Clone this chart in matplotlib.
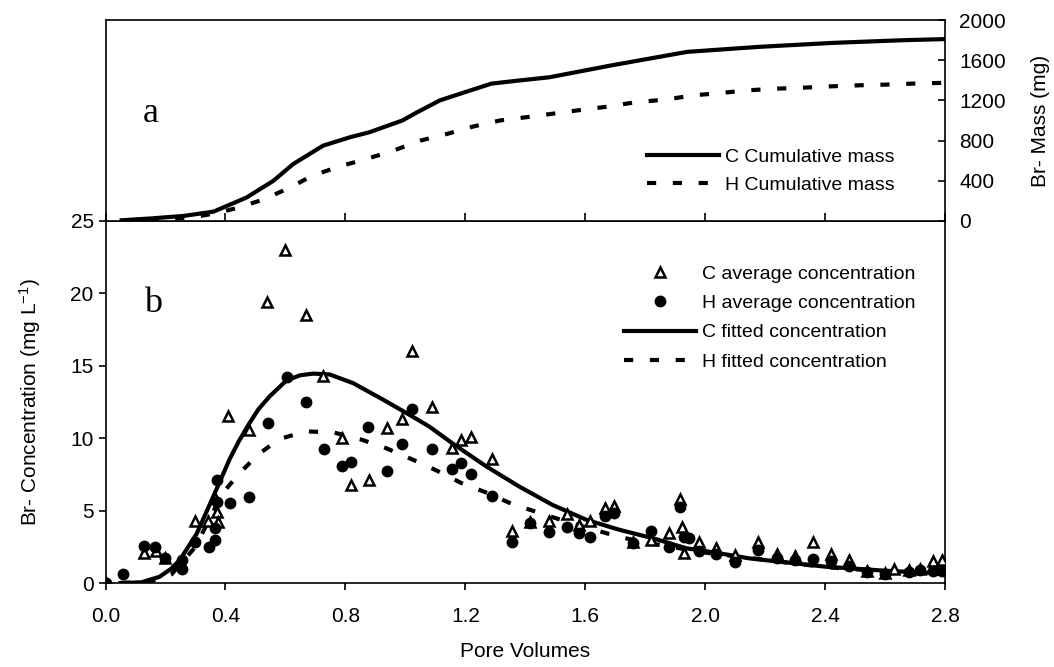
import numpy as np
import matplotlib
matplotlib.use("Agg")
import matplotlib.pyplot as plt

plt.rcParams['font.family'] = ['Liberation Sans', 'DejaVu Sans']
plt.rcParams['mathtext.default'] = 'regular'

# ---- panel a: cumulative mass (mg) ----
c_mass_x = [0.054, 0.15, 0.26, 0.36, 0.47, 0.56, 0.626, 0.726, 0.815, 0.88, 0.99, 1.04, 1.115,
            1.2, 1.287, 1.37, 1.48, 1.69, 1.94, 2.18, 2.43, 2.67, 2.8]
c_mass_y = [7, 25, 50, 93, 233, 400, 567, 750, 833, 883, 1000, 1083, 1200,
            1283, 1367, 1395, 1430, 1550, 1683, 1733, 1773, 1800, 1810]

h_mass_x = [0.06, 0.2, 0.3, 0.38, 0.443, 0.53, 0.615, 0.69, 0.78, 0.87, 0.96, 1.05, 1.14, 1.226,
            1.315, 1.404, 1.49, 1.59, 1.68, 1.77, 1.865, 1.96, 2.05, 2.14, 2.24, 2.33, 2.42,
            2.51, 2.6, 2.69, 2.8]
h_mass_y = [0, 15, 40, 85, 133, 217, 333, 450, 543, 617, 700, 800, 867, 940,
            1000, 1033, 1067, 1107, 1140, 1183, 1207, 1250, 1273, 1300, 1317, 1327, 1340,
            1350, 1357, 1367, 1375]

# ---- panel b: measured concentrations (mg/L) ----
c_obs_x = [0.0, 0.13, 0.17, 0.20, 0.25, 0.30, 0.343, 0.365, 0.373, 0.375, 0.41, 0.478, 0.54,
           0.60, 0.668, 0.726, 0.79, 0.82, 0.88, 0.94, 0.99, 1.023, 1.09, 1.154, 1.187, 1.22,
           1.29, 1.357, 1.417, 1.478, 1.54, 1.58, 1.617, 1.667, 1.695, 1.76, 1.818, 1.88,
           1.917, 1.924, 1.93, 1.98, 2.035, 2.10, 2.176, 2.24, 2.30, 2.36, 2.42, 2.48, 2.54,
           2.60, 2.63, 2.68, 2.715, 2.76, 2.79]
c_obs_y = [0.0, 2.05, 2.2, 1.7, 1.35, 4.25, 4.25, 5.9, 4.9, 4.2, 11.5, 10.6, 19.4,
           23.0, 18.5, 14.3, 10.0, 6.8, 7.1, 10.7, 11.3, 16.0, 12.15, 9.3, 9.9, 10.1,
           8.55, 3.6, 4.2, 4.3, 4.8, 4.0, 4.3, 5.2, 5.35, 2.85, 3.0, 3.45,
           5.8, 3.9, 2.1, 2.8, 2.4, 1.95, 2.85, 2.0, 1.9, 2.8, 2.0, 1.6, 0.8,
           0.7, 1.0, 0.9, 1.0, 1.5, 1.6]

h_obs_x = [0.0, 0.06, 0.13, 0.165, 0.20, 0.255, 0.255, 0.30, 0.344, 0.365, 0.365, 0.372, 0.372,
           0.415, 0.478, 0.543, 0.606, 0.668, 0.728, 0.79, 0.82, 0.876, 0.94, 0.99, 1.023,
           1.09, 1.154, 1.187, 1.22, 1.29, 1.356, 1.417, 1.48, 1.54, 1.58, 1.617, 1.667,
           1.695, 1.76, 1.818, 1.88, 1.917, 1.93, 1.945, 1.98, 2.035, 2.10, 2.176, 2.24,
           2.30, 2.36, 2.42, 2.48, 2.54, 2.60, 2.68, 2.715, 2.76, 2.79]
h_obs_y = [0.0, 0.6, 2.55, 2.5, 1.75, 1.6, 1.0, 2.85, 2.5, 3.0, 3.8, 5.6, 7.1,
           5.55, 5.95, 11.05, 14.2, 12.5, 9.25, 8.05, 8.35, 10.8, 7.75, 9.6, 12.0,
           9.25, 7.9, 8.3, 7.5, 6.0, 2.85, 4.15, 3.5, 3.85, 3.45, 3.2, 4.6,
           4.85, 2.75, 3.6, 2.5, 5.25, 3.15, 3.1, 2.2, 2.0, 1.45, 2.3, 1.75,
           1.6, 1.65, 1.55, 1.2, 0.75, 0.65, 0.75, 0.9, 0.85, 0.8]

# ---- panel b: fitted curves ----
c_fit_x = [0.05, 0.12, 0.18, 0.22, 0.248, 0.304, 0.36, 0.415, 0.445, 0.476, 0.51, 0.548, 0.604,
           0.65, 0.693, 0.748, 0.826, 0.926, 1.015, 1.08, 1.16, 1.27, 1.38, 1.49, 1.604, 1.715,
           1.826, 1.937, 2.048, 2.148, 2.4, 2.6, 2.8]
c_fit_y = [0.0, 0.05, 0.43, 1.0, 1.6, 3.4, 6.0, 8.6, 9.8, 10.9, 12.0, 12.9, 14.0,
           14.35, 14.46, 14.4, 13.8, 12.66, 11.6, 10.8, 9.6, 8.05, 6.66, 5.4, 4.36, 3.67,
           3.09, 2.4, 2.05, 1.7, 1.13, 0.85, 0.65]

h_fit_x = [0.05, 0.15, 0.22, 0.3, 0.39, 0.448, 0.508, 0.58, 0.67, 0.76, 0.854, 0.937, 1.02,
           1.104, 1.187, 1.276, 1.354, 1.443, 1.537, 1.71, 1.80, 2.0, 2.2, 2.4, 2.6, 2.8]
h_fit_y = [0.0, 0.1, 0.6, 2.5, 6.2, 7.6, 8.86, 9.95, 10.47, 10.4, 9.9, 9.3, 8.56,
           7.77, 6.9, 6.2, 5.47, 4.87, 4.24, 3.2, 2.8, 2.1, 1.6, 1.1, 0.8, 0.6]

x_ticks = [0.0, 0.4, 0.8, 1.2, 1.6, 2.0, 2.4, 2.8]

fig = plt.figure(figsize=(10.54, 6.67), dpi=100)
ax_b = fig.add_axes([0.1001, 0.1259, 0.7966, 0.5428])
ax_a = fig.add_axes([0.1001, 0.6687, 0.7966, 0.3013])

lw = 3.0
dash = (2.2, 4.0)

# panel a
ax_a.plot(c_mass_x, c_mass_y, color='black', lw=lw, label='C Cumulative mass')
ax_a.plot(h_mass_x, h_mass_y, color='black', lw=lw, dashes=dash, label='H Cumulative mass')
ax_a.set_xlim(0, 2.8)
ax_a.set_ylim(0, 2000)
ax_a.yaxis.tick_right()
ax_a.yaxis.set_label_position('right')
ax_a.set_yticks([0, 400, 800, 1200, 1600, 2000])
ax_a.set_xticks(x_ticks)
ax_a.tick_params(axis='x', direction='in', length=6, width=1.2, labelbottom=False)
ax_a.tick_params(axis='y', direction='in', length=5, width=1.2, labelsize=15, pad=10)
ax_a.set_ylabel('Br- Mass (mg)', fontsize=15, labelpad=18)
for s in ax_a.spines.values():
    s.set_linewidth(1.2)
ax_a.text(0.15, 1070, 'a', family='Liberation Serif', fontsize=26, ha='center', va='center')
ax_a.legend(loc='upper left', bbox_to_anchor=(0.645, 0.36), frameon=False, fontsize=14,
            handlelength=3.7, handletextpad=0.3, labelspacing=0.52, borderpad=0, borderaxespad=0)

# panel b
ax_b.plot(c_fit_x, c_fit_y, color='black', lw=lw, label='C fitted concentration', zorder=2)
ax_b.plot(h_fit_x, h_fit_y, color='black', lw=lw, dashes=dash, label='H fitted concentration', zorder=2)
ax_b.plot(c_obs_x, c_obs_y, ls='none', marker='^', ms=7, mfc='white', mec='black', mew=1.8,
          label='C average concentration', zorder=3)
ax_b.plot(h_obs_x, h_obs_y, ls='none', marker='o', ms=7.5, mfc='black', mec='black',
          label='H average concentration', zorder=3)
ax_b.set_xlim(0, 2.8)
ax_b.set_ylim(0, 25)
ax_b.set_xticks(x_ticks)
ax_b.set_xticklabels(['%.1f' % t for t in x_ticks])
ax_b.set_yticks([0, 5, 10, 15, 20, 25])
ax_b.tick_params(direction='out', length=5, width=1.2, labelsize=15)
ax_b.tick_params(axis='x', pad=12)
ax_b.set_xlabel('Pore Volumes', fontsize=15, labelpad=12)
ax_b.set_ylabel('Br- Concentration (mg L$^{-1}$)', fontsize=15, labelpad=20)
for s in ax_b.spines.values():
    s.set_linewidth(1.2)
ax_b.text(0.16, 19.3, 'b', family='Liberation Serif', fontsize=26, ha='center', va='center')

handles, labels = ax_b.get_legend_handles_labels()
order = [2, 3, 0, 1]
ax_b.legend([handles[i] for i in order], [labels[i] for i in order], loc='upper left',
            bbox_to_anchor=(0.618, 0.878), frameon=False, fontsize=14, numpoints=1,
            handlelength=3.7, handletextpad=0.3, labelspacing=0.6, borderpad=0, borderaxespad=0)

fig.savefig('out.png', dpi=100)
